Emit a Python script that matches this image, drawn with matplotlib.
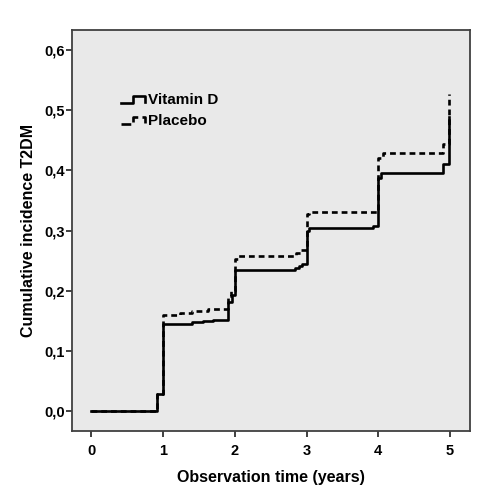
import matplotlib
matplotlib.use("Agg")
import matplotlib.pyplot as plt
from matplotlib.legend_handler import HandlerBase
from matplotlib.lines import Line2D

plt.rcParams['font.family'] = ['Liberation Sans', 'DejaVu Sans']
plt.rcParams['font.weight'] = 'bold'

# ---- data ----
vitd_time = [0.0, 0.91, 1.0, 1.40, 1.55, 1.70, 1.91, 1.96, 2.0, 2.84, 2.89, 2.94, 3.0, 3.04, 3.93, 4.0, 4.04, 4.91, 4.99]
vitd_inc = [0.0, 0.029, 0.145, 0.148, 0.150, 0.152, 0.182, 0.193, 0.235, 0.238, 0.241, 0.244, 0.299, 0.304, 0.307, 0.388, 0.396, 0.410, 0.488]

plac_time = [0.0, 0.91, 1.0, 1.23, 1.41, 1.62, 1.91, 1.95, 2.0, 2.04, 2.85, 2.92, 3.0, 3.04, 4.0, 4.07, 4.91, 4.99]
plac_inc = [0.0, 0.029, 0.160, 0.163, 0.167, 0.170, 0.192, 0.200, 0.252, 0.258, 0.262, 0.268, 0.327, 0.331, 0.421, 0.428, 0.443, 0.527]

x_ticks = [0, 1, 2, 3, 4, 5]
y_ticks = [0.0, 0.1, 0.2, 0.3, 0.4, 0.5, 0.6]
y_tick_labels = ['0,0', '0,1', '0,2', '0,3', '0,4', '0,5', '0,6']
series_labels = ['Vitamin D', 'Placebo']
x_label = 'Observation time (years)'
y_label = 'Cumulative incidence T2DM'


class StepHandler(HandlerBase):
    def create_artists(self, legend, orig_handle, xdescent, ydescent,
                       width, height, fontsize, trans):
        x0 = -xdescent
        y0 = -ydescent
        xs = [x0, x0 + 0.5 * width, x0 + 0.5 * width, x0 + width, x0 + width]
        ys = [y0 + 0.1 * height, y0 + 0.1 * height, y0 + 0.8 * height,
              y0 + 0.8 * height, y0 + 0.25 * height]
        line = Line2D(xs, ys, color=orig_handle.get_color(),
                      linewidth=orig_handle.get_linewidth(),
                      linestyle=orig_handle.get_linestyle(),
                      transform=trans)
        return [line]


fig = plt.figure(figsize=(4.98, 4.88), dpi=100)
ax = fig.add_axes([0.1446, 0.1168, 0.9438 - 0.1446, 0.9385 - 0.1168])
ax.set_facecolor('#e9e9e9')

lw = 1.9
l_plac, = ax.plot(plac_time, plac_inc, drawstyle='steps-post', color='black',
                  linewidth=lw, linestyle=(0, (2.2, 1.5)), label=series_labels[1])
l_vitd, = ax.plot(vitd_time, vitd_inc, drawstyle='steps-post', color='black',
                  linewidth=lw, linestyle='-', label=series_labels[0])

ax.set_xlim(-0.27, 5.28)
ax.set_ylim(-0.033, 0.633)
ax.set_xticks(x_ticks)
ax.set_xticklabels([str(t) for t in x_ticks])
ax.set_yticks(y_ticks)
ax.set_yticklabels(y_tick_labels)

for s in ax.spines.values():
    s.set_color('#404040')
    s.set_linewidth(1.3)

ax.tick_params(axis='both', which='major', labelsize=10.5, color='#202020',
               width=1.2, direction='out')
ax.tick_params(axis='x', length=4.2, pad=5)
ax.tick_params(axis='y', length=4.5, pad=0.8)

ax.set_xlabel(x_label, fontsize=11.5, fontweight='bold', labelpad=9)
ax.set_ylabel(y_label, fontsize=11.5, fontweight='bold', labelpad=6)

leg = ax.legend(handles=[l_vitd, l_plac], labels=series_labels,
                handler_map={Line2D: StepHandler()},
                loc='upper left', bbox_to_anchor=(0.123, 0.842),
                frameon=False, fontsize=11, handlelength=1.6,
                handletextpad=0.15, labelspacing=0.45, borderpad=0,
                borderaxespad=0)

fig.savefig('out.png', dpi=100)
